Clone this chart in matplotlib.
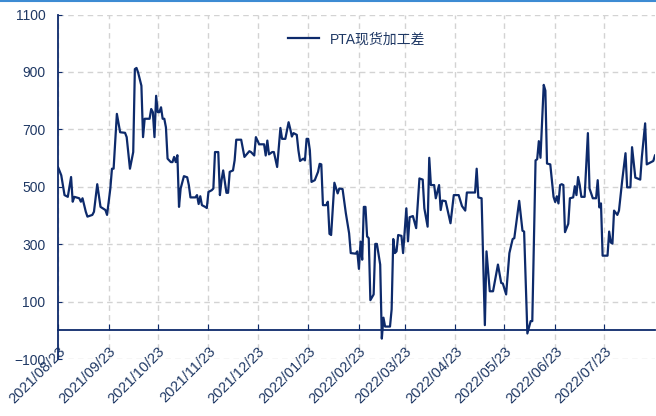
import pandas as pd
import matplotlib
matplotlib.use("Agg")
import matplotlib.pyplot as plt
import matplotlib.dates as mdates
from matplotlib.lines import Line2D

plt.rcParams['font.family'] = ['Liberation Sans', 'Noto Sans CJK SC', 'DejaVu Sans']

# data: days after 2021/08/23 and the PTA spot processing spread
start = '2021-08-23'
days = [0, 2, 4, 6, 8, 9, 10, 13, 14, 15, 17, 18, 21, 22, 24, 26, 29, 30, 32, 33,
        34, 35, 36, 38, 41, 42, 44, 46, 47, 48, 49, 51, 52, 53, 56, 57, 58, 59, 60, 61,
        62, 63, 64, 65, 66, 67, 69, 70, 71, 72, 73, 74, 75, 77, 79, 80, 81, 84, 85, 86,
        87, 88, 90, 91, 92, 94, 95, 96, 98, 99, 100, 101, 103, 104, 105, 107, 108, 109, 112, 114,
        117, 118, 120, 121, 123, 126, 127, 128, 129, 131, 132, 134, 136, 137, 139, 141, 142, 143, 144, 146,
        147, 148, 150, 151, 152, 153, 154, 155, 157, 159, 160, 161, 162, 164, 165, 166, 167, 169, 171, 172,
        174, 176, 178, 179, 182, 183, 184, 185, 186, 187, 188, 189, 190, 191, 193, 194, 195, 197, 198, 199,
        200, 203, 204, 205, 206, 207, 208, 210, 211, 213, 214, 215, 217, 219, 221, 223, 224, 226, 227, 228,
        230, 231, 233, 234, 235, 237, 240, 242, 245, 247, 249, 250, 255, 256, 257, 259, 261, 262, 264, 266,
        269, 271, 272, 274, 276, 278, 279, 282, 284, 285, 287, 289, 290, 292, 293, 294, 295, 297, 298, 299,
        301, 303, 304, 305, 306, 307, 308, 309, 310, 312, 313, 315, 316, 317, 318, 319, 320, 322, 324, 325,
        327, 329, 330, 331, 332, 333, 336, 337, 338, 339, 340, 342, 343, 345, 347, 348, 350, 351, 353, 356,
        357, 359, 360, 364, 365]
spread = [569, 540, 471, 465, 534, 448, 465, 460, 448, 460, 413, 396, 402, 413, 509, 430, 419, 402, 494, 563,
          563, 656, 754, 690, 688, 673, 563, 621, 910, 914, 898, 852, 673, 737, 737, 771, 760, 673, 817, 760,
          760, 777, 737, 737, 707, 598, 586, 586, 604, 586, 610, 430, 494, 537, 533, 506, 463, 463, 471, 440,
          467, 436, 430, 426, 482, 488, 494, 621, 621, 471, 523, 557, 479, 479, 552, 557, 592, 664, 664, 604,
          624, 621, 609, 673, 648, 648, 609, 661, 613, 621, 621, 569, 705, 667, 667, 725, 702, 675, 687, 681,
          627, 590, 598, 592, 667, 667, 627, 517, 523, 552, 580, 578, 436, 436, 448, 336, 332, 514, 477, 494,
          492, 408, 338, 269, 267, 275, 214, 309, 246, 430, 430, 327, 321, 105, 125, 301, 301, 229, -29, 44,
          13, 13, 73, 318, 269, 275, 332, 329, 269, 425, 310, 394, 398, 356, 529, 525, 425, 361, 601, 506,
          506, 460, 506, 419, 452, 450, 373, 471, 471, 433, 417, 480, 480, 563, 463, 460, 18, 275, 136, 136,
          229, 165, 163, 125, 269, 318, 321, 451, 347, 344, -11, 32, 32, 592, 596, 659, 601, 855, 835, 581,
          578, 465, 447, 467, 442, 506, 509, 506, 342, 371, 460, 463, 502, 471, 534, 506, 465, 465, 687, 494,
          460, 460, 523, 428, 442, 260, 260, 344, 306, 302, 417, 402, 417, 523, 617, 498, 498, 638, 532, 525,
          604, 721, 578, 590, 609]
label = 'PTA现货加工差'

navy = '#0d2a6b'
dates = pd.to_datetime(start) + pd.to_timedelta(days, unit='D')

fig = plt.figure(figsize=(6.56, 4.16), dpi=100)
ax = fig.add_axes([0.0884, 0.137, 0.91, 0.828])

ax.plot(dates, spread, color=navy, lw=1.6, label=label)

# axes limits and ticks
ax.set_ylim(-100, 1100)
ax.set_yticks(range(-100, 1101, 200))
ax.set_xlim(pd.to_datetime(start), pd.to_datetime('2022-08-23'))
ax.set_xticks(pd.date_range(start, periods=12, freq=pd.DateOffset(months=1)))
ax.xaxis.set_major_formatter(mdates.DateFormatter('%Y/%m/%d'))

ax.spines['bottom'].set_position(('data', 0))
ax.spines['bottom'].set_color(navy)
ax.spines['bottom'].set_linewidth(1.3)
ax.spines['left'].set_color(navy)
ax.spines['left'].set_linewidth(1.3)
ax.spines['top'].set_visible(False)
ax.spines['right'].set_visible(False)

ax.tick_params(axis='y', direction='in', length=3, color=navy, labelcolor='#1f3864',
               labelsize=10, pad=9)
ax.tick_params(axis='x', direction='in', length=4, color=navy, labelcolor='#1f3864',
               labelsize=10.5, pad=10)
for t in ax.get_xticklabels():
    t.set_rotation(45)
    t.set_ha('right')
    t.set_va('top')
    t.set_rotation_mode('anchor')

ax.grid(True, color='#d3d3d3', linestyle=(0, (4, 3)), linewidth=1)
ax.set_axisbelow(True)

leg = ax.legend(loc='upper center', bbox_to_anchor=(0.5, 0.985), frameon=False,
                fontsize=10, handlelength=2.2)
for t in leg.get_texts():
    t.set_color('#1f3864')

# blue rule at the top of the picture
fig.add_artist(Line2D([0, 1], [0.998, 0.998], color='#3d8bd3', lw=1.5))

fig.savefig('out.png', dpi=100)
